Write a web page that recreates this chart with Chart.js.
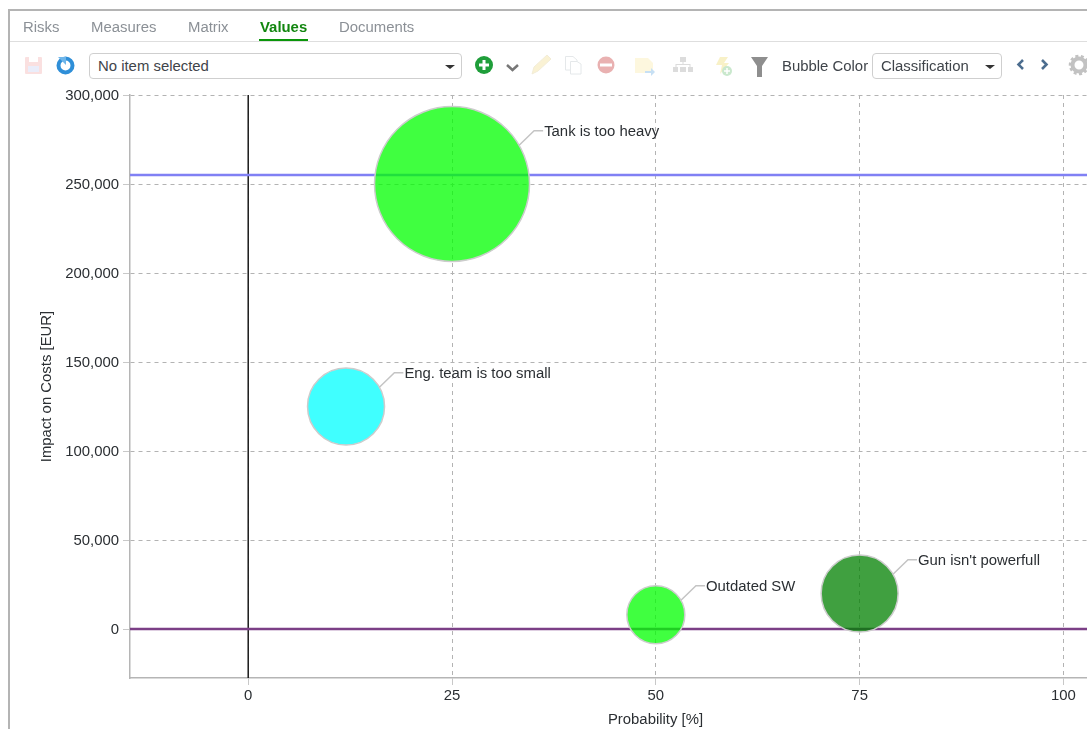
<!DOCTYPE html>
<html>
<head>
<meta charset="utf-8">
<title>Risk values</title>
<script src="https://cdn.jsdelivr.net/npm/chart.js@4"></script>
<style>
  html, body { margin: 0; padding: 0; width: 1087px; height: 729px; overflow: hidden; background: #fff; }
  body { position: relative; font-family: "Liberation Sans", Arial, sans-serif; font-size: 14.9px; color: #3a3f45; }
  #riskChart { position: absolute; left: 0; top: 0; }
  .frame-top { position: absolute; left: 8px; top: 9px; width: 1079px; height: 2px; background: #b4b4b4; }
  .frame-left { position: absolute; left: 8px; top: 9px; width: 2px; height: 720px; background: #b4b4b4; }
  .tabline { position: absolute; left: 10px; top: 41px; width: 1077px; height: 1px; background: #dedede; }
  .tab { position: absolute; top: 19px; color: #8b9096; white-space: nowrap; }
  .tab.active { color: #12860f; font-weight: bold; }
  .tab-mark { position: absolute; left: 259px; top: 39px; width: 49px; height: 2px; background: #0a960a; }
  .select { position: absolute; top: 53px; height: 26px; box-sizing: border-box; border: 1px solid #cfcfcf; border-radius: 4px;
            background: #fff; line-height: 24px; padding-left: 8px; white-space: nowrap; color: #3f444a; }
  .select::after { content: ""; position: absolute; right: 6px; top: 11px; border-left: 5px solid transparent;
            border-right: 5px solid transparent; border-top: 4px solid #333; }
  .caption { position: absolute; left: 782px; top: 58px; white-space: nowrap; color: #3f444a; }
  #icons { position: absolute; left: 0; top: 48px; }
</style>
</head>
<body>
<canvas id="riskChart" width="1260" height="757"></canvas>

<div class="frame-top"></div>
<div class="frame-left"></div>
<div class="tab" style="left:23px">Risks</div>
<div class="tab" style="left:91px">Measures</div>
<div class="tab" style="left:188px">Matrix</div>
<div class="tab active" style="left:260px">Values</div>
<div class="tab" style="left:339px">Documents</div>
<div class="tab-mark"></div>
<div class="tabline"></div>

<div class="select" style="left:89px;width:373px">No item selected</div>
<div class="caption">Bubble Color</div>
<div class="select" style="left:872px;width:130px">Classification</div>

<svg id="icons" width="1087" height="36" viewBox="0 48 1087 36">
  <!-- save -->
  <g opacity="0.3">
    <rect x="25" y="57" width="17" height="17" rx="1" fill="#ef9a9a"/>
    <rect x="29" y="57" width="9" height="5" fill="#fff"/>
    <rect x="28" y="66" width="11" height="6" fill="#b9c4ee"/>
  </g>
  <!-- refresh -->
  <circle cx="65.5" cy="65.5" r="7" fill="none" stroke="#2f8fd8" stroke-width="4"/>
  <path d="M58 57 L66 57 L66 65 Z" fill="#6fb6ea"/>
  <!-- add -->
  <circle cx="484" cy="65" r="9" fill="#1f9e3a"/>
  <path d="M484 60 V70 M479 65 H489" stroke="#fff" stroke-width="3"/>
  <!-- expand -->
  <path d="M507 65 L512.5 70 L518 65" fill="none" stroke="#777" stroke-width="2.5"/>
  <!-- edit -->
  <g opacity="0.45">
    <path d="M532 74 L534 67 L547 55 L551 59 L538 71 Z" fill="#f3e3a0" stroke="#e3d6a8"/>
  </g>
  <!-- copy -->
  <g opacity="0.3" fill="#fff" stroke="#a9b4b8">
    <path d="M565.5 56.5 H573 L577 60 V70 H565.5 Z"/>
    <path d="M570.5 61.5 H577 L581 64 V74 H570.5 Z"/>
  </g>
  <!-- remove -->
  <circle cx="606" cy="65" r="8.5" fill="#e9b1b1"/>
  <rect x="600" y="63.5" width="12" height="3" fill="#fff"/>
  <!-- move -->
  <g opacity="0.5">
    <path d="M635 58 H648 L653 63 V73 H635 Z" fill="#fbf0bd"/>
    <path d="M645 71 H651 V68 L655 72 L651 76 V73 H645 Z" fill="#8fc1ea"/>
  </g>
  <!-- hierarchy -->
  <g fill="#dcdcdc">
    <rect x="680" y="57" width="6" height="5"/><rect x="673" y="67" width="5" height="5"/>
    <rect x="680" y="67" width="6" height="5"/><rect x="688" y="67" width="5" height="5"/>
    <path d="M682.5 62 h1 v2 h7 v3 h-1 v-2 h-13 v2 h-1 v-3 h7 Z"/>
  </g>
  <!-- risk trigger -->
  <g opacity="0.55">
    <path d="M720 57 H728 L724 63 H729 L720 74 L722 65 H716 Z" fill="#f2e59a"/>
    <circle cx="727" cy="71" r="5" fill="#9ed6a5"/>
    <path d="M727 68 V74 M724 71 H730" stroke="#fff" stroke-width="1.5"/>
  </g>
  <!-- filter -->
  <path d="M751 57 H768 L762 66 V77 H757 V66 Z" fill="#8e8e8e"/>
  <!-- paging -->
  <path d="M1023 60 L1018.5 64.5 L1023 69" fill="none" stroke="#4c6d8f" stroke-width="2.6"/>
  <path d="M1042 60 L1046.5 64.5 L1042 69" fill="none" stroke="#4c6d8f" stroke-width="2.6"/>
  <!-- settings -->
  <circle cx="1079" cy="65" r="6.5" fill="none" stroke="#c2c2c2" stroke-width="4"/>
  <circle cx="1079" cy="65" r="9" fill="none" stroke="#c2c2c2" stroke-width="2.5" stroke-dasharray="3 2.5"/>
</svg>

<script>
// Risk register: probability against cost impact, one bubble per risk.
const riskNames = ["Tank is too heavy", "Eng. team is too small", "Outdated SW", "Gun isn't powerfull"];
const probabilityPct = [25, 12, 50, 75];
const impactEur = [250000, 125000, 8000, 20000];
const bubbleRadius = [77.5, 38.5, 29, 38.5];
const classificationColors = ["rgba(0,255,0,0.75)", "rgba(0,255,255,0.75)", "rgba(0,255,0,0.75)", "rgba(0,128,0,0.75)"];

const xTickValues = [0, 25, 50, 75, 100];
const yTickValues = [0, 50000, 100000, 150000, 200000, 250000, 300000];
const xRange = [-14.5, 114.42];
const yRange = [-27500, 300000];

const upperCostLimit = 255000;
const lowerCostLimit = 0;
const probabilityOrigin = 0;

const FONT = '"Liberation Sans", Arial, sans-serif';
const FONT_SIZE = 14.9;
const TEXT = "#2b2f33";

// Leader line from each bubble's rim to its name, up and to the right.
const riskLabels = {
  id: "riskLabels",
  afterDatasetsDraw(chart) {
    const { ctx, scales } = chart;
    ctx.save();
    ctx.font = FONT_SIZE + "px " + FONT;
    ctx.textBaseline = "middle";
    riskNames.forEach((name, i) => {
      const cx = scales.x.getPixelForValue(probabilityPct[i]);
      const cy = scales.y.getPixelForValue(impactEur[i]);
      const r = bubbleRadius[i];
      const sx = cx + r * Math.cos(Math.PI / 6);
      const sy = cy - r * Math.sin(Math.PI / 6);
      ctx.beginPath();
      ctx.moveTo(sx, sy);
      ctx.lineTo(sx + 15, sy - 14.5);
      ctx.lineTo(sx + 24, sy - 14.5);
      ctx.strokeStyle = "#c4c4c4";
      ctx.lineWidth = 1.5;
      ctx.stroke();
      ctx.fillStyle = TEXT;
      ctx.fillText(name, sx + 25, sy - 13.5);
    });
    ctx.restore();
  }
};

const axisGrid = {
  color: "#b3b3b3",
  lineWidth: 1,
  tickColor: "#c8c8c8",
  tickLength: 7,
  drawOnChartArea: true
};

new Chart(document.getElementById("riskChart"), {
  type: "bubble",
  data: {
    datasets: [
      {
        label: "Risks",
        order: 0,
        data: riskNames.map((_, i) => ({ x: probabilityPct[i], y: impactEur[i], r: bubbleRadius[i] })),
        backgroundColor: classificationColors,
        borderColor: "#cccccc",
        borderWidth: 1.5,
        clip: false
      },
      {
        type: "line",
        label: "Upper cost limit",
        order: 1,
        data: xRange.map(x => ({ x, y: upperCostLimit })),
        borderColor: "#8080f4",
        borderWidth: 2.5,
        pointRadius: 0
      },
      {
        type: "line",
        label: "Lower cost limit",
        order: 1,
        data: xRange.map(x => ({ x, y: lowerCostLimit })),
        borderColor: "#7b3f86",
        borderWidth: 2.5,
        pointRadius: 0
      },
      {
        type: "line",
        label: "Probability origin",
        order: 1,
        data: yRange.map(y => ({ x: probabilityOrigin, y })),
        borderColor: "#1a1a1a",
        borderWidth: 1.5,
        pointRadius: 0
      }
    ]
  },
  options: {
    responsive: false,
    animation: false,
    events: [],
    layout: { padding: { top: 95, left: 0, right: 0, bottom: 0 } },
    plugins: { legend: { display: false }, tooltip: { enabled: false } },
    scales: {
      x: {
        type: "linear",
        min: xRange[0],
        max: xRange[1],
        afterBuildTicks(scale) { scale.ticks = xTickValues.map(value => ({ value })); },
        afterFit(scale) { scale.height = 51; },
        grid: axisGrid,
        border: { color: "#b5b5b5", width: 1.5, dash: [4, 4], dashOffset: 0 },
        ticks: { color: TEXT, font: { family: FONT, size: FONT_SIZE }, padding: 2, maxRotation: 0, autoSkip: false,
                 callback: v => v.toLocaleString("en-US") },
        title: { display: true, text: "Probability [%]", color: TEXT, font: { family: FONT, size: FONT_SIZE }, padding: { top: 2, bottom: 0 } }
      },
      y: {
        type: "linear",
        min: yRange[0],
        max: yRange[1],
        afterBuildTicks(scale) { scale.ticks = yTickValues.map(value => ({ value })); },
        afterFit(scale) { scale.width = 130; },
        grid: axisGrid,
        border: { color: "#b5b5b5", width: 1.5, dash: [4, 4], dashOffset: 0 },
        ticks: { color: TEXT, font: { family: FONT, size: FONT_SIZE }, padding: 4, labelOffset: 1, autoSkip: false,
                 callback: v => v.toLocaleString("en-US") },
        title: { display: true, text: "Impact on Costs [EUR]", color: TEXT, font: { family: FONT, size: FONT_SIZE }, padding: { top: 38, bottom: 0 } }
      }
    }
  },
  plugins: [riskLabels]
});
</script>
</body>
</html>
